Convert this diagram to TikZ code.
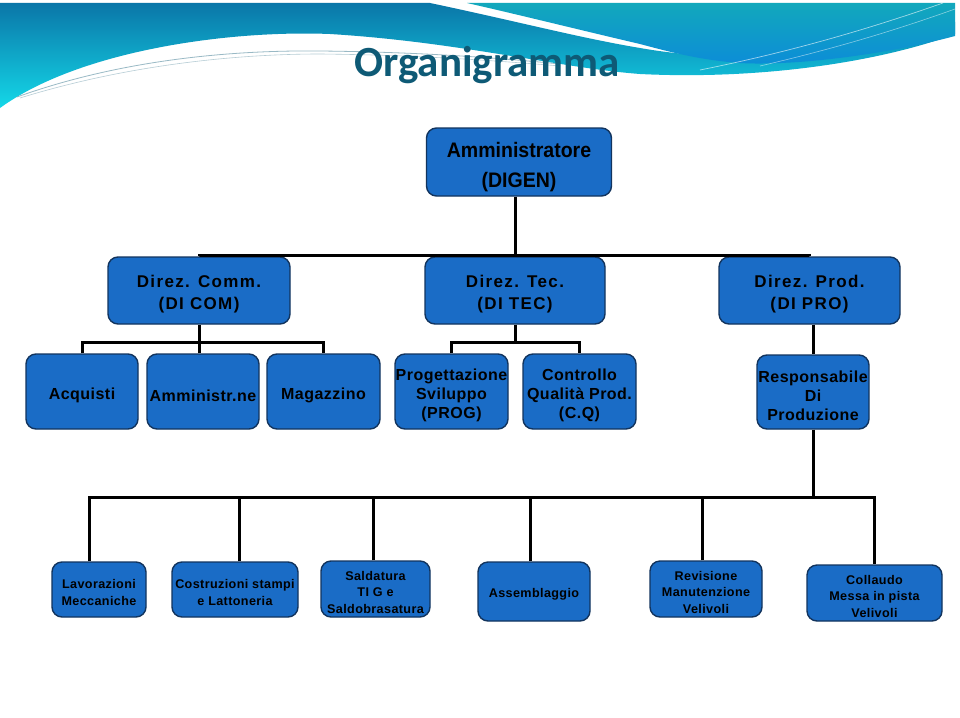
\documentclass[tikz,border=0pt]{standalone}
\usepackage{fontspec}
\setmainfont{Liberation Sans}
\newfontfamily\titlefont{Carlito}
\newfontfamily\narrowfont{Liberation Sans}[FakeStretch=0.93]
\newfontfamily\spacedfont{Liberation Sans}[LetterSpace=8]
\newfontfamily\tightfont{Liberation Sans}[LetterSpace=3]
\definecolor{boxblue}{HTML}{1A6CC6}
\definecolor{boxline}{HTML}{12345E}
\definecolor{titlecol}{HTML}{0E5A76}
\definecolor{bandtop}{HTML}{0A76A8}
\definecolor{bandbot}{HTML}{14D8E8}
\definecolor{rtop}{HTML}{12A8BC}
\definecolor{rbot}{HTML}{0C8CD8}
\tikzset{
  orgbox/.style={draw=boxline, line width=1.4pt, fill=boxblue, rounded corners=10pt, inner sep=0pt},
  orgtext/.style={align=center, inner sep=0pt, text=black},
  tone/.style={orgtext, font=\narrowfont\bfseries\fontsize{21}{30}\selectfont, yshift=-5pt},
  ttwo/.style={orgtext, font=\spacedfont\bfseries\fontsize{17}{22}\selectfont, yshift=-3.5pt},
  tthree/.style={orgtext, font=\tightfont\bfseries\fontsize{16}{19}\selectfont, yshift=-4pt},
  tfour/.style={orgtext, font=\tightfont\bfseries\fontsize{12.6}{16.5}\selectfont, yshift=-3pt},
  conn/.style={line width=3pt, black, line join=miter}
}
% #1 text style, #2 name, #3 x, #4 y, #5 width, #6 height, #7 text
\newcommand\orgnode[7]{%
  \node[orgbox, minimum width=#5pt, minimum height=#6pt] (#2) at (#3,#4) {};
  \node[#1] (#2-t) at (#2.center) {#7};}
\begin{document}
\begin{tikzpicture}[x=1pt,y=-1pt]
\useasboundingbox (0,0) rectangle (960,717);
\fill[white] (0,0) rectangle (960,717);
% banner
\shade[top color=bandtop, bottom color=bandbot]
  (0,3) -- (430,3) .. controls (520,22) and (580,38) .. (640,48)
  .. controls (720,62) and (820,62) .. (955,22) -- (955,34)
  .. controls (880,62) and (760,80) .. (640,74)
  .. controls (560,68) and (460,42) .. (330,34)
  .. controls (230,30) and (80,50) .. (0,108) -- cycle;
\shade[top color=rtop, bottom color=rbot]
  (467,3) -- (955,3) -- (955,36) .. controls (880,56) and (790,66) .. (740,63)
  .. controls (700,60) and (670,52) .. (640,44)
  .. controls (580,30) and (520,15) .. (467,3) -- cycle;
\draw[color=titlecol!60, line width=0.8pt, opacity=0.7]
  (17,97) .. controls (120,60) and (230,50) .. (320,51) .. controls (420,52) and (500,58) .. (560,64);
\draw[color=titlecol!50, line width=0.6pt, opacity=0.6]
  (20,98) .. controls (130,64) and (240,54) .. (320,54) .. controls (420,55) and (500,61) .. (560,66);
\draw[white, line width=0.7pt, opacity=0.6] (700,70) .. controls (800,50) and (880,25) .. (943,3);
\draw[white, line width=0.6pt, opacity=0.5] (760,66) .. controls (850,45) and (910,25) .. (955,9);
\node[font=\titlefont\bfseries\fontsize{43}{50}\selectfont, text=titlecol, anchor=base] (title) at (487,77) {Organigramma};
% level 1
\orgnode{tone}{digen}{519}{162}{185}{68}{Amministratore\\(DIGEN)}
% level 2
\orgnode{ttwo}{dicom}{199}{290.5}{182}{67}{Direz. Comm.\\(DI COM)}
\orgnode{ttwo}{ditec}{515}{290.5}{180}{67}{Direz. Tec.\\(DI TEC)}
\orgnode{ttwo}{dipro}{809.5}{290.5}{181}{67}{Direz. Prod.\\(DI PRO)}
% level 3
\orgnode{tthree}{acq}{82}{391.5}{112}{75}{Acquisti}
\orgnode{tthree}{amm}{203}{391.5}{112}{75}{Amministr.ne}
\orgnode{tthree}{mag}{323.5}{391.5}{113}{75}{Magazzino}
\orgnode{tthree}{prog}{451.5}{391.5}{113}{75}{Progettazione\\Sviluppo\\(PROG)}
\orgnode{tthree}{cq}{579.5}{391.5}{113}{75}{Controllo\\Qualità Prod.\\(C.Q)}
\orgnode{tthree}{resp}{813}{392}{112}{74}{Responsabile\\Di\\Produzione}
% level 4
\orgnode{tfour}{lav}{99}{589.5}{94}{55}{Lavorazioni\\Meccaniche}
\orgnode{tfour}{costr}{235}{589.5}{126}{55}{Costruzioni stampi\\e Lattoneria}
\orgnode{tfour}{sald}{375.5}{589}{109}{56}{Saldatura\\TI G e\\Saldobrasatura}
\orgnode{tfour}{assem}{534}{591.5}{112}{59}{Assemblaggio}
\orgnode{tfour}{revis}{706}{589}{112}{56}{Revisione\\Manutenzione\\Velivoli}
\orgnode{tfour}{coll}{874.5}{593}{135}{56}{Collaudo\\Messa in pista\\Velivoli}
% connectors level 1-2
\coordinate (busA) at (515,255);
\draw[conn] (ditec.north |- digen.south) -- (ditec.north);
\draw[conn] (dicom.north) -- (dicom.north |- busA) -- (dipro.north |- busA) -- (dipro.north);
% level 2-3
\coordinate (busB) at (0,342);
\draw[conn] (dicom.south) -- (dicom.south |- busB);
\draw[conn] (acq.north) -- (acq.north |- busB) -- (mag.north |- busB) -- (mag.north);
\draw[conn] ([xshift=-4pt]amm.north) -- ([xshift=-4pt]amm.north |- busB);
\draw[conn] (ditec.south) -- (ditec.south |- busB);
\draw[conn] (prog.north) -- (prog.north |- busB) -- (cq.north |- busB) -- (cq.north);
\draw[conn] (resp.north |- dipro.south) -- (resp.north);
% level 3-4
\coordinate (busC) at (0,497);
\draw[conn] (resp.south) -- (resp.south |- busC);
\draw[conn] ([xshift=-10pt]lav.north) -- ([xshift=-10pt]lav.north |- busC) -- (coll.north |- busC) -- (coll.north);
\draw[conn] ([xshift=4pt]costr.north) -- ([xshift=4pt]costr.north |- busC);
\draw[conn] ([xshift=-2.5pt]sald.north) -- ([xshift=-2.5pt]sald.north |- busC);
\draw[conn] ([xshift=-4pt]assem.north) -- ([xshift=-4pt]assem.north |- busC);
\draw[conn] ([xshift=-4pt]revis.north) -- ([xshift=-4pt]revis.north |- busC);
\end{tikzpicture}
\end{document}
